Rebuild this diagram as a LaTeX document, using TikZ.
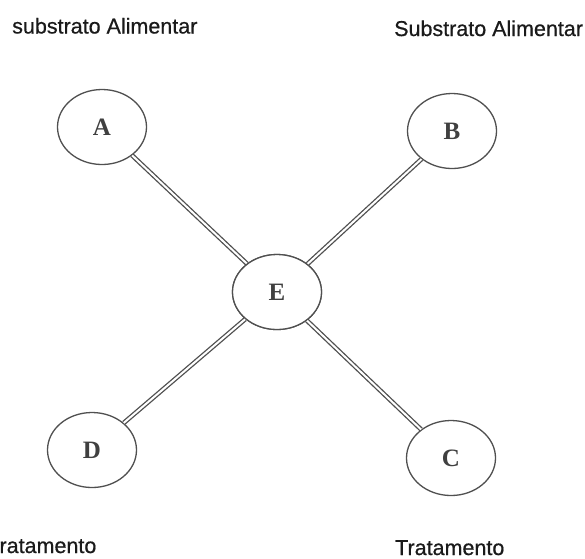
\documentclass[tikz,border=0pt]{standalone}
\usepackage{fontspec}
\setmainfont{Liberation Serif}
\newfontfamily\labfont[FakeBold=0.6]{Liberation Sans}
\usetikzlibrary{shapes.geometric}
\definecolor{ink}{HTML}{505050}
\definecolor{txt}{HTML}{1a1a1a}
\tikzset{
  bub/.style={ellipse, draw=ink, line width=1.3pt, fill=white, minimum width=89pt, minimum height=75pt, inner sep=0pt,
    font=\fontsize{25}{25}\selectfont\bfseries, text=ink!80!black},
  link/.style={draw=ink, line width=1.3pt, double=white, double distance=2pt},
  lab/.style={anchor=base west, inner sep=0pt, font=\labfont\fontsize{21.5}{21.5}\selectfont, text=txt}
}
\begin{document}
\begin{tikzpicture}[x=1pt,y=-1pt]
\fill[white] (0,0) rectangle (585,558);
\useasboundingbox (0,0) rectangle (585,558);
\node[bub] (A) at (102,127) {A};
\node[bub] (B) at (452,131) {B};
\node[bub] (E) at (277,292) {E};
\node[bub] (D) at (92,450) {D};
\node[bub] (C) at (451,458) {C};
\draw[link] (A) -- (E);
\draw[link] (B) -- (E);
\draw[link] (D) -- (E);
\draw[link] (C) -- (E);
\node[bub] at (E) {E};
\node[lab] (l1) at (12,33.5) {substrato Alimentar};
\node[lab] (l2) at (394,36) {Substrato Alimentar};
\node[lab] (l3) at (-13,553) {Tratamento};
\node[lab] (l4) at (395,555) {Tratamento};
\end{tikzpicture}
\end{document}
